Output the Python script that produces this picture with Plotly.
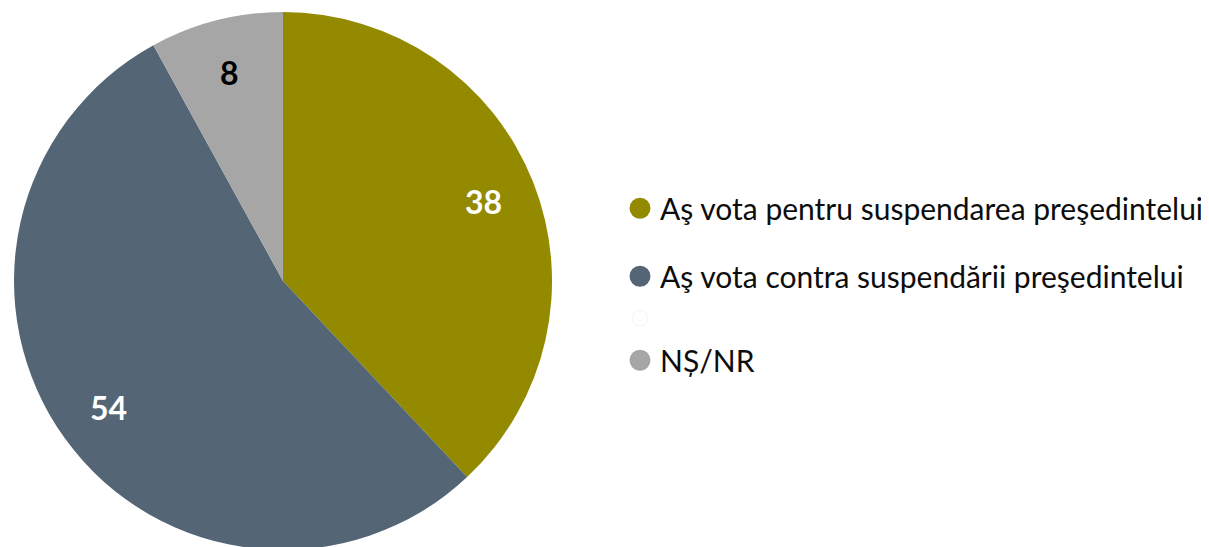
import math
import plotly.graph_objects as go

categories = ["Aş vota pentru suspendarea preşedintelui",
              "Aş vota contra suspendării preşedintelui",
              " ",
              "NȘ/NR"]
values = [38, 54, 0, 8]
colors = ["#938A00", "#546576", "#FFFFFF", "#A6A6A6"]
label_colors = ["#FFFFFF", "#FFFFFF", "#FFFFFF", "#000000"]

W, H = 1209, 547
M_T, M_B = 4, 5
plot_h = H - M_T - M_B          # 538 -> pie radius 269
dom_x = [6 / W, 544 / W]

fig = go.Figure()
fig.add_trace(go.Pie(
    labels=categories, values=values,
    marker=dict(colors=colors, line=dict(width=0)),
    sort=False, direction="clockwise", rotation=0,
    textinfo="none",
    showlegend=False, hoverinfo="label+value",
    domain=dict(x=dom_x, y=[0, 1]),
))

# data labels placed at 80% of the radius, at each slice's mid-angle
total = sum(values)
cx = (dom_x[0] + dom_x[1]) / 2 * W
cy = plot_h / 2
r = plot_h / 2
cum = 0
for v, lc in zip(values, label_colors):
    if v:
        theta = math.radians((cum + v / 2) / total * 360)
        px = cx + 0.8 * r * math.sin(theta)
        py = cy - 0.8 * r * math.cos(theta)
        fig.add_annotation(x=px / W, y=1 - py / plot_h, xref="paper", yref="paper",
                           xanchor="center", yanchor="middle",
                           text=str(v), showarrow=False,
                           font=dict(family="Lato", size=32, color=lc, weight="bold"))
    cum += v

groups = ["a", "b", "b", "b"]
for name, col, g in zip(categories, colors, groups):
    blank = col == "#FFFFFF"
    fig.add_trace(go.Scatter(
        x=[None], y=[None], mode="markers", name=name, legendgroup=g,
        marker=dict(symbol="circle", size=16, color=col,
                    line=dict(width=1 if blank else 5,
                              color="#F4F4F4" if blank else col)),
    ))

fig.update_layout(
    width=W, height=H,
    margin=dict(l=0, r=0, t=M_T, b=M_B),
    paper_bgcolor="white", plot_bgcolor="white",
    xaxis=dict(visible=False), yaxis=dict(visible=False),
    legend=dict(x=612 / W, xanchor="left", y=0.494, yanchor="middle",
                font=dict(family="Lato", size=30, color="#0D0D0D"),
                tracegroupgap=26, itemsizing="trace"),
    font=dict(family="Lato"),
)
fig.write_html("out.html")
